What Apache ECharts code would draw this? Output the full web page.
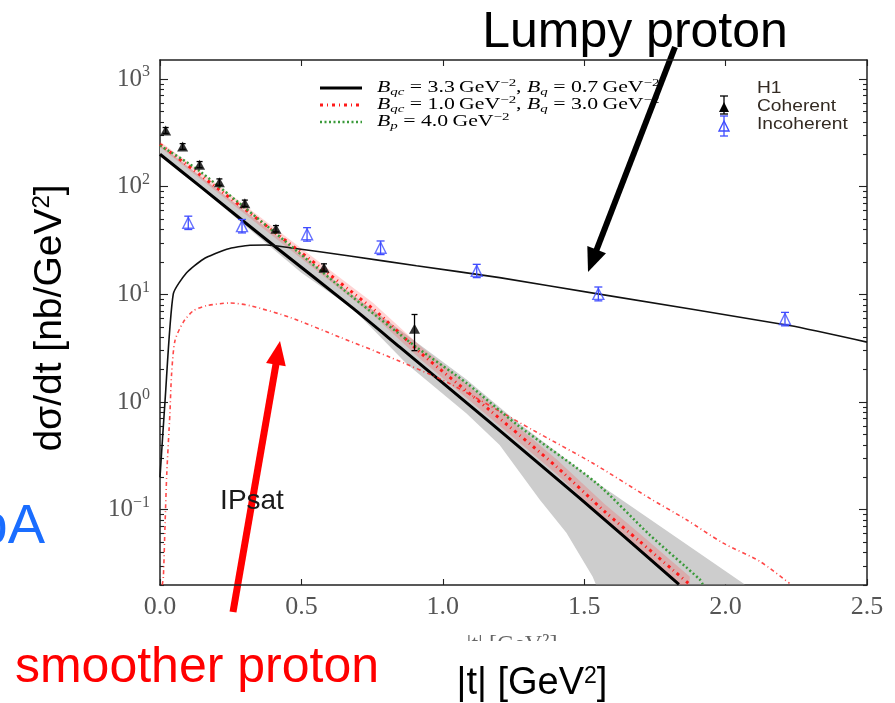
<!DOCTYPE html>
<html>
<head>
<meta charset="utf-8">
<script src="https://cdn.jsdelivr.net/npm/echarts@6/dist/echarts.min.js"></script>
<style>
  html, body { margin: 0; padding: 0; background: #ffffff; }
  #chart { width: 895px; height: 703px; }
</style>
</head>
<body>
<div id="chart"></div>
<script>
// ---- axis ranges and tick labels ----
const Y_MIN = 0.02;
const Y_MAX = 1500;
const yMajorTicks = [0.1, 1, 10, 100, 1000];
const yTickExps = ['\u22121', '0', '1', '2', '3'];
const yMinorTicks = [
  0.02, 0.03, 0.04, 0.05, 0.06, 0.07, 0.08, 0.09,
  0.2, 0.3, 0.4, 0.5, 0.6, 0.7, 0.8, 0.9,
  2, 3, 4, 5, 6, 7, 8, 9,
  20, 30, 40, 50, 60, 70, 80, 90,
  200, 300, 400, 500, 600, 700, 800, 900
];
const xTickLabels = ['0.0', '0.5', '1.0', '1.5', '2.0', '2.5'];

// ---- H1 data: |t| [GeV^2], dsigma/dt [nb/GeV^2] ----
const coherentT  = [0.02, 0.08, 0.14, 0.21, 0.30, 0.41, 0.58, 0.90];
const coherentV  = [332, 236, 160, 110, 70, 40.6, 17.7, 4.8];
const coherentLo = [312, 222, 150, 103, 65.5, 38.0, 16.4, 3.0];
const coherentHi = [354, 251, 171, 118, 75, 43.5, 19.2, 6.5];

const incoherentT  = [0.10, 0.29, 0.52, 0.78, 1.12, 1.55, 2.21];
const incoherentV  = [46.2, 43.0, 36.1, 27.1, 16.5, 10.1, 5.9];
const incoherentLo = [40.0, 37.2, 31.2, 23.4, 14.3, 8.7, 5.1];
const incoherentHi = [53.2, 49.6, 41.6, 31.3, 19.0, 11.7, 6.8];

// ---- IPsat curves, pairs of [|t|, dsigma/dt] ----
// lumpy proton: Bqc = 3.3, Bq = 0.7
const coherentLumpy = [[0, 200], [0.141, 101], [0.412, 27.1], [0.683, 7.4], [0.848, 3.23],
  [1.166, 0.65], [1.484, 0.128], [1.835, 0.0203]];
const incoherentLumpy = [[0, 0.2], [0.018, 1.04], [0.047, 10.1], [0.094, 15.9], [0.153, 21.2],
  [0.236, 26.2], [0.318, 28.6], [0.377, 28.7], [0.459, 27.1], [0.671, 22.7], [0.907, 18.4],
  [1.201, 14.3], [1.548, 10.1], [2.226, 5.13], [2.5, 3.6]];
// uncertainty band of the lumpy coherent curve
const lumpyBandUpper = [[0, 245], [0.683, 9.8], [1.084, 1.62], [1.261, 0.66], [1.55, 0.174],
  [2.067, 0.0203]];
const lumpyBandLower = [[0, 200], [0.5, 15.9], [0.683, 7.3], [0.872, 2.27], [1.084, 0.783],
  [1.201, 0.399], [1.343, 0.124], [1.437, 0.061], [1.53, 0.0239], [1.541, 0.0203]];

// smoother proton: Bqc = 1.0, Bq = 3.0
const coherentSmooth = [[0, 247], [0.141, 129], [0.754, 7.31], [0.925, 2.81], [1.166, 0.84],
  [1.402, 0.251], [1.572, 0.0964], [1.696, 0.0509], [1.814, 0.0275], [1.873, 0.0203]];
const smoothBandUpper = [[0, 262], [0.141, 139], [0.754, 8.3], [0.925, 3.22], [1.166, 0.98],
  [1.402, 0.294], [1.572, 0.113], [1.696, 0.060], [1.814, 0.0325], [1.873, 0.024]];
const smoothBandLower = [[0, 232], [0.141, 119], [0.754, 6.4], [0.925, 2.45], [1.166, 0.72],
  [1.402, 0.215], [1.572, 0.082], [1.696, 0.043], [1.814, 0.023], [1.873, 0.017]];
const incoherentSmooth = [[0.008, 0.02], [0.012, 0.024], [0.018, 0.075], [0.024, 0.218],
  [0.035, 0.783], [0.041, 1.83], [0.053, 3.72], [0.082, 5.5], [0.118, 7.05], [0.165, 7.85],
  [0.247, 8.31], [0.318, 7.85], [0.459, 6.12], [0.636, 4.0], [0.813, 2.61], [1.025, 1.48],
  [1.319, 0.548], [1.531, 0.27], [1.731, 0.128], [1.861, 0.0809], [1.99, 0.0492],
  [2.12, 0.0333], [2.226, 0.0207]];

// Bp = 4.0 (round proton)
const coherentRound = [[0, 241], [0.141, 139], [0.683, 9.35], [0.907, 3.23], [1.084, 1.5],
  [1.261, 0.62], [1.543, 0.177], [1.731, 0.0586], [1.908, 0.0226], [1.919, 0.0203]];

// ---- styles ----
const AXIS_COLOR = '#222';
const SERIF = '"Liberation Serif", "DejaVu Serif", serif';
const SANS = '"Liberation Sans", Arial, sans-serif';
const BLUE = '#3f4cff';
const RED = '#ff1a1a';
const GREEN = '#3a9a3a';
const LABEL_GREY = '#555';

function pairs(xs, ys) { return xs.map((x, i) => [x, ys[i]]); }

function errorBars(xs, lo, hi, color, capHalf) {
  return {
    type: 'custom',
    silent: true,
    z: 6,
    data: xs.map((x, i) => [x, lo[i], hi[i]]),
    encode: { x: 0, y: [1, 2] },
    renderItem(params, api) {
      const a = api.coord([api.value(0), api.value(1)]);
      const b = api.coord([api.value(0), api.value(2)]);
      const style = { stroke: color, lineWidth: 1.3, fill: null };
      return {
        type: 'group',
        children: [
          { type: 'line', shape: { x1: a[0], y1: a[1], x2: b[0], y2: b[1] }, style },
          { type: 'line', shape: { x1: b[0] - capHalf, y1: b[1], x2: b[0] + capHalf, y2: b[1] }, style },
          { type: 'line', shape: { x1: a[0] - capHalf, y1: a[1], x2: a[0] + capHalf, y2: a[1] }, style }
        ]
      };
    }
  };
}

function band(upper, lower, fill, z) {
  return {
    type: 'custom',
    silent: true,
    z,
    data: upper,
    encode: { x: 0, y: 1 },
    renderItem(params, api) {
      if (params.dataIndex !== 0) return;
      const pts = upper.map(p => api.coord(p))
        .concat(lower.slice().reverse().map(p => api.coord(p)));
      const cs = params.coordSys;
      return {
        type: 'polygon',
        shape: { points: pts },
        style: { fill },
        clipPath: { type: 'rect', shape: { x: cs.x, y: cs.y, width: cs.width, height: cs.height } }
      };
    }
  };
}

function curve(data, lineStyle, z, smooth) {
  return {
    type: 'line', data, showSymbol: false, clip: true, silent: true, z, lineStyle,
    smooth: smooth === undefined ? 0.25 : smooth
  };
}

const yAxisBase = {
  type: 'log', logBase: 10, min: Y_MIN, max: Y_MAX,
  splitLine: { show: false },
  axisLine: { show: true, lineStyle: { color: AXIS_COLOR, width: 1.5 } }
};
const tickStyle = { color: AXIS_COLOR, width: 1.1 };

function yLabel(v) {
  const i = yMajorTicks.findIndex(m => Math.abs(m - v) / m < 1e-6);
  return i < 0 ? '' : '{b|10}{s|' + yTickExps[i] + '}';
}

const legendRich = {
  n: { fontFamily: SERIF, fontSize: 16, color: '#666', lineHeight: 20, verticalAlign: 'middle' },
  i: { fontFamily: SERIF, fontStyle: 'italic', fontSize: 16, color: '#666', lineHeight: 20, verticalAlign: 'middle' },
  sp: { fontFamily: SERIF, fontSize: 11, color: '#666', lineHeight: 9, verticalAlign: 'top' },
  sb: { fontFamily: SERIF, fontStyle: 'italic', fontSize: 11, color: '#666', lineHeight: 8, verticalAlign: 'bottom' }
};

function legendLine(y, stroke, width, dash) {
  return { type: 'line', shape: { x1: 320, y1: y, x2: 362, y2: y },
    style: { stroke, lineWidth: width, lineDash: dash || null }, z: 20 };
}
function legendText(y, text) {
  return { type: 'text', x: 377, y, z: 20, scaleX: 1.36,
    style: { text, rich: legendRich, textVerticalAlign: 'middle', textAlign: 'left' } };
}
function triangle(cx, cy, w, h, fill, stroke) {
  return { type: 'polygon', z: 21,
    shape: { points: [[cx, cy - h / 2], [cx + w / 2, cy + h / 2], [cx - w / 2, cy + h / 2]] },
    style: { fill, stroke: stroke || null, lineWidth: 1.4 } };
}
function vbar(x, y1, y2, color) {
  return { type: 'group', z: 21, children: [
    { type: 'line', shape: { x1: x, y1, x2: x, y2 }, style: { stroke: color, lineWidth: 1.3 } },
    { type: 'line', shape: { x1: x - 4, y1, x2: x + 4, y2: y1 }, style: { stroke: color, lineWidth: 1.3 } },
    { type: 'line', shape: { x1: x - 4, y1: y2, x2: x + 4, y2 }, style: { stroke: color, lineWidth: 1.3 } }
  ] };
}
function arrow(x0, y0, x1, y1, color, width, headLen, headHalf) {
  const dx = x1 - x0, dy = y1 - y0, L = Math.hypot(dx, dy);
  const ux = dx / L, uy = dy / L;
  const bx = x1 - ux * headLen, by = y1 - uy * headLen;
  return { type: 'group', z: 40, children: [
    { type: 'line', shape: { x1: x0, y1: y0, x2: bx + ux * 2, y2: by + uy * 2 },
      style: { stroke: color, lineWidth: width } },
    { type: 'polygon', shape: { points: [[x1, y1], [bx - uy * headHalf, by + ux * headHalf], [bx + uy * headHalf, by - ux * headHalf]] },
      style: { fill: color } }
  ] };
}

const chart = echarts.init(document.getElementById('chart'), null, { renderer: 'canvas' });

chart.setOption({
  animation: false,
  backgroundColor: '#ffffff',
  grid: { left: 160, right: 28, top: 60, bottom: 118, containLabel: false },
  xAxis: [
    {
      type: 'value', position: 'bottom', min: 0, max: 2.5, interval: 0.5,
      splitLine: { show: false },
      axisLine: { lineStyle: { color: AXIS_COLOR, width: 1.5 } },
      axisTick: { inside: true, length: 6, lineStyle: tickStyle },
      axisLabel: {
        formatter: (v) => xTickLabels[Math.round(v / 0.5)],
        fontFamily: SERIF, fontSize: 26, color: LABEL_GREY, margin: 9
      }
    },
    {
      type: 'value', position: 'top', min: 0, max: 2.5, interval: 0.5,
      splitLine: { show: false },
      axisLine: { lineStyle: { color: AXIS_COLOR, width: 1.5 } },
      axisTick: { inside: true, length: 6, lineStyle: tickStyle },
      axisLabel: { show: false }
    }
  ],
  yAxis: [
    Object.assign({}, yAxisBase, {
      position: 'left',
      axisTick: { inside: true, length: 8, customValues: yMajorTicks, lineStyle: tickStyle },
      axisLabel: {
        customValues: yMajorTicks, formatter: yLabel, margin: 10,
        rich: {
          b: { fontFamily: SERIF, fontSize: 25, color: LABEL_GREY, lineHeight: 30, verticalAlign: 'middle' },
          s: { fontFamily: SERIF, fontSize: 16, color: LABEL_GREY, lineHeight: 14, verticalAlign: 'top' }
        }
      }
    }),
    Object.assign({}, yAxisBase, {
      position: 'left', axisLine: { show: false },
      axisTick: { inside: true, length: 4, customValues: yMinorTicks, lineStyle: tickStyle },
      axisLabel: { show: false }
    }),
    Object.assign({}, yAxisBase, {
      position: 'right',
      axisTick: { inside: true, length: 8, customValues: yMajorTicks, lineStyle: tickStyle },
      axisLabel: { show: false }
    }),
    Object.assign({}, yAxisBase, {
      position: 'right', axisLine: { show: false },
      axisTick: { inside: true, length: 4, customValues: yMinorTicks, lineStyle: tickStyle },
      axisLabel: { show: false }
    })
  ],
  series: [
    band(lumpyBandUpper, lumpyBandLower, '#cdcdcd', 1),
    band(smoothBandUpper, smoothBandLower, 'rgba(255,60,60,0.22)', 2),
    curve(coherentLumpy, { color: '#000', width: 3 }, 3),
    curve(incoherentLumpy, { color: '#111', width: 1.6 }, 3, 0.2),
    curve(coherentSmooth, { color: RED, width: 3, type: [3, 4, 1, 4] }, 4),
    curve(incoherentSmooth, { color: 'rgba(255,40,40,0.85)', width: 1.6, type: [4, 3, 1, 3] }, 4),
    curve(coherentRound, { color: GREEN, width: 2.5, type: [2, 2.5] }, 4),
    errorBars(coherentT, coherentLo, coherentHi, '#000', 3),
    errorBars(incoherentT, incoherentLo, incoherentHi, BLUE, 4),
    {
      type: 'scatter', data: pairs(coherentT, coherentV), symbol: 'triangle',
      symbolSize: [11, 10], itemStyle: { color: '#000' }, z: 8, silent: true
    },
    {
      type: 'scatter', data: pairs(incoherentT, incoherentV), symbol: 'triangle',
      symbolSize: [11, 11],
      itemStyle: { color: 'rgba(255,255,255,0)', borderColor: BLUE, borderWidth: 1.4 },
      z: 8, silent: true
    }
  ],
  graphic: [
    // legend of the model curves
    legendLine(88, '#000', 3),
    legendLine(105, RED, 3, [3, 4, 1, 4]),
    legendLine(122, GREEN, 2.5, [2, 2.5]),
    legendText(88, '{i|B}{sb|qc}{n| = 3.3\u2009GeV}{sp|\u22122}{n|, }{i|B}{sb|q}{n| = 0.7\u2009GeV}{sp|\u22122}'),
    legendText(105, '{i|B}{sb|qc}{n| = 1.0\u2009GeV}{sp|\u22122}{n|, }{i|B}{sb|q}{n| = 3.0\u2009GeV}{sp|\u22122}'),
    legendText(122, '{i|B}{sb|p}{n| = 4.0\u2009GeV}{sp|\u22122}'),
    // legend of the data
    vbar(724, 96, 114, '#000'),
    triangle(724, 107, 10, 10, '#000'),
    vbar(724, 116, 136, BLUE),
    triangle(724, 126, 10, 10, 'rgba(255,255,255,0)', BLUE),
    { type: 'text', x: 757, y: 89, z: 20, scaleX: 1.2,
      style: { text: 'H1', font: '16px ' + SANS, fill: '#332a22', textVerticalAlign: 'middle' } },
    { type: 'text', x: 757, y: 107, z: 20, scaleX: 1.2,
      style: { text: 'Coherent', font: '16px ' + SANS, fill: '#332a22', textVerticalAlign: 'middle' } },
    { type: 'text', x: 757, y: 125, z: 20, scaleX: 1.2,
      style: { text: 'Incoherent', font: '16px ' + SANS, fill: '#332a22', textVerticalAlign: 'middle' } },

    { type: 'text', x: 252, y: 501, z: 20,
      style: { text: 'IPsat', font: '28px ' + SANS, fill: '#1a1a1a', textAlign: 'center', textVerticalAlign: 'middle' } },

    // x axis title of the plot, partly covered
    { type: 'text', x: 512, y: 645, z: 10,
      style: { text: '|t| [GeV\u00b2]', font: '24px ' + SERIF, fill: '#666', textAlign: 'center', textVerticalAlign: 'middle' } },
    { type: 'rect', z: 11, shape: { x: 420, y: 641, width: 200, height: 30 }, style: { fill: '#fff' } },

    // axis titles
    { type: 'text', x: 50, y: 318, rotation: Math.PI / 2, z: 30,
      style: { text: 'd\u03c3/dt [nb/GeV{s|2}]', font: '39px ' + SANS, fill: '#000',
        textAlign: 'center', textVerticalAlign: 'middle',
        rich: { s: { font: '24px ' + SANS, fill: '#000', verticalAlign: 'top', lineHeight: 20 } } } },
    { type: 'text', x: 532, y: 684, z: 30,
      style: { text: '|t| [GeV{s|2}]', font: '38px ' + SANS, fill: '#000',
        textAlign: 'center', textVerticalAlign: 'middle',
        rich: { s: { font: '23px ' + SANS, fill: '#000', verticalAlign: 'top', lineHeight: 20 } } } },

    // annotations
    { type: 'text', x: 635, y: 33, z: 30,
      style: { text: 'Lumpy proton', font: '50px ' + SANS, fill: '#000', textAlign: 'center', textVerticalAlign: 'middle' } },
    { type: 'text', x: 197, y: 668, z: 30,
      style: { text: 'smoother proton', font: '50px ' + SANS, fill: '#ff0000', textAlign: 'center', textVerticalAlign: 'middle' } },
    { type: 'text', x: 45, y: 528, z: 30,
      style: { text: 'pA', font: '56px ' + SANS, fill: '#1a6dff', textAlign: 'right', textVerticalAlign: 'middle' } },
    arrow(675, 47, 588, 272, '#000', 6, 24, 10),
    arrow(233, 612, 280, 341, '#ff0000', 7, 24, 10)
  ]
});
</script>
</body>
</html>
